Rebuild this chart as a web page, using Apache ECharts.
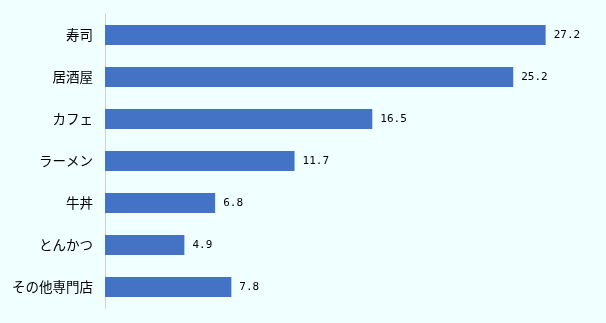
<!DOCTYPE html>
<html><head><meta charset="utf-8">
<script src="https://cdn.jsdelivr.net/npm/echarts@6/dist/echarts.min.js"></script>
<style>html,body{margin:0;padding:0;background:#f0ffff;}#c{width:606px;height:323px;}</style>
</head><body><div id="c"></div>
<script>
const categories = ['寿司','居酒屋','カフェ','ラーメン','牛丼','とんかつ','その他専門店'];
const values = [27.2, 25.2, 16.5, 11.7, 6.8, 4.9, 7.8];
const chart = echarts.init(document.getElementById('c'));
chart.setOption({
  backgroundColor: '#f0ffff',
  animation: false,
  grid: {left: 105, right: 15, top: 14, bottom: 15, containLabel: false},
  xAxis: {type: 'value', min: 0, max: 30, show: false},
  yAxis: {
    type: 'category', data: categories, inverse: true,
    axisLine: {show: true, lineStyle: {color: '#d0d0d0', width: 1}},
    axisTick: {show: false},
    axisLabel: {color: '#000', fontSize: 13.5, fontFamily: 'Noto Sans CJK JP', margin: 12}
  },
  series: [{
    type: 'bar', data: values, barCategoryGap: '52%',
    itemStyle: {color: '#4472c4'},
    label: {show: true, position: 'right', distance: 8, color: '#000', fontSize: 11, fontFamily: 'DejaVu Sans Mono',
      formatter: p => p.value.toFixed(1)}
  }]
});
</script></body></html>
